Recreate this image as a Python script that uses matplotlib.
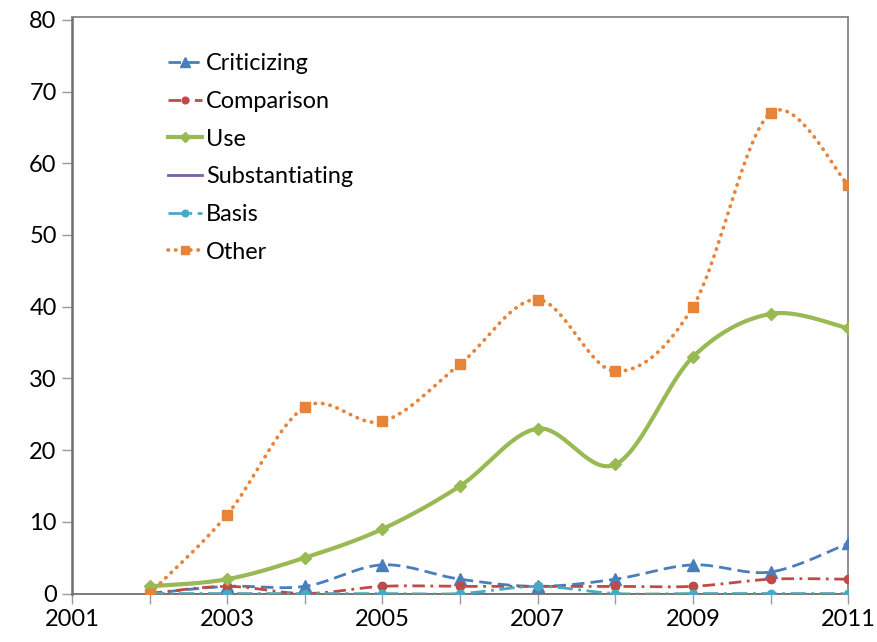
import numpy as np
import matplotlib
matplotlib.use("Agg")
import matplotlib.pyplot as plt

plt.rcParams["font.family"] = ["Lato", "DejaVu Sans"]

# 引用类型逐年统计
years = [2002, 2003, 2004, 2005, 2006, 2007, 2008, 2009, 2010, 2011]
criticizing = [0, 1, 1, 4, 2, 1, 2, 4, 3, 7]
comparison = [0, 1, 0, 1, 1, 1, 1, 1, 2, 2]
use = [1, 2, 5, 9, 15, 23, 18, 33, 39, 37]
substantiating = [0, 0, 0, 0, 0, 0, 0, 0, 0, 0]
basis = [0, 0, 0, 0, 0, 1, 0, 0, 0, 0]
other = [0, 11, 26, 24, 32, 41, 31, 40, 67, 57]

x_ticks = [2001, 2003, 2005, 2007, 2009, 2011]
y_ticks = [0, 10, 20, 30, 40, 50, 60, 70, 80]


def smooth(xs, ys, n=40):
    """Excel 风格的平滑曲线（三次贝塞尔，Catmull-Rom 控制点）"""
    p = np.column_stack([xs, ys]).astype(float)
    pts = np.vstack([p[0], p, p[-1]])
    out = []
    t = np.linspace(0, 1, n)[:, None]
    for i in range(1, len(pts) - 2):
        p0, p1, p2, p3 = pts[i - 1], pts[i], pts[i + 1], pts[i + 2]
        b1 = p1 + (p2 - p0) / 6
        b2 = p2 - (p3 - p1) / 6
        seg = ((1 - t) ** 3) * p1 + 3 * ((1 - t) ** 2) * t * b1 \
            + 3 * (1 - t) * t ** 2 * b2 + t ** 3 * p2
        out.append(seg if i == 1 else seg[1:])
    seg = np.vstack(out)
    return seg[:, 0], seg[:, 1]


series = [
    ("Criticizing", criticizing, "#4A7EBB", (0, (4.5, 2.2)), 2.0, "^", 9),
    ("Comparison", comparison, "#BE4B48", (0, (4.5, 2, 1, 2)), 2.0, "o", 6),
    ("Use", use, "#98B954", "-", 3.0, "D", 6.5),
    ("Substantiating", substantiating, "#7D60A0", "-", 2.0, None, 0),
    ("Basis", basis, "#46AAC5", (0, (5.5, 2, 1, 2)), 2.0, "o", 6),
    ("Other", other, "#E8843A", (0, (0.1, 1.9)), 2.7, "s", 6.5),
]

fig = plt.figure(figsize=(8.77, 6.42), dpi=100)
ax = fig.add_axes([0.0821, 0.0755, 0.885, 0.898])

for name, vals, color, ls, lw, mk, ms in series:
    sx, sy = smooth(years, vals)
    dash_cap = "round" if name == "Other" else "butt"
    ax.plot(sx, sy, color=color, linestyle=ls, linewidth=lw,
            dash_capstyle=dash_cap, solid_capstyle="butt", zorder=3)
    if mk:
        ax.plot(years, vals, linestyle="none", marker=mk, markersize=ms,
                color=color, markeredgecolor=color, zorder=4)
    # 图例用的句柄
    ax.plot([], [], color=color, linestyle=ls, linewidth=lw,
            dash_capstyle=dash_cap, marker=mk, markersize=ms * 0.8,
            markeredgecolor=color, label=name)

ax.set_xlim(2001, 2011)
ax.set_ylim(0, 80.4)
ax.set_xticks(x_ticks)
ax.set_xticks(range(2001, 2012), minor=True)
ax.set_yticks(y_ticks)

for s in ax.spines.values():
    s.set_color("#868686")
    s.set_linewidth(1.3)
ax.spines["left"].set_color("#6f6f6f")
ax.spines["left"].set_linewidth(1.8)
ax.spines["bottom"].set_color("#6f6f6f")

ax.tick_params(axis="both", which="both", direction="out", length=7,
               color="#9a9a9a", width=1, labelsize=17, pad=4)
ax.tick_params(axis="y", which="both", right=False)
ax.tick_params(axis="x", which="both", top=False)

handles, labels = ax.get_legend_handles_labels()
leg = ax.legend(handles, labels,
                loc="upper left", bbox_to_anchor=(0.1237, 0.937),
                frameon=False, fontsize=16.9, handlelength=1.45,
                handletextpad=0.17, labelspacing=0.71, numpoints=1,
                borderpad=0, borderaxespad=0)

fig.savefig("out.png", dpi=100)
